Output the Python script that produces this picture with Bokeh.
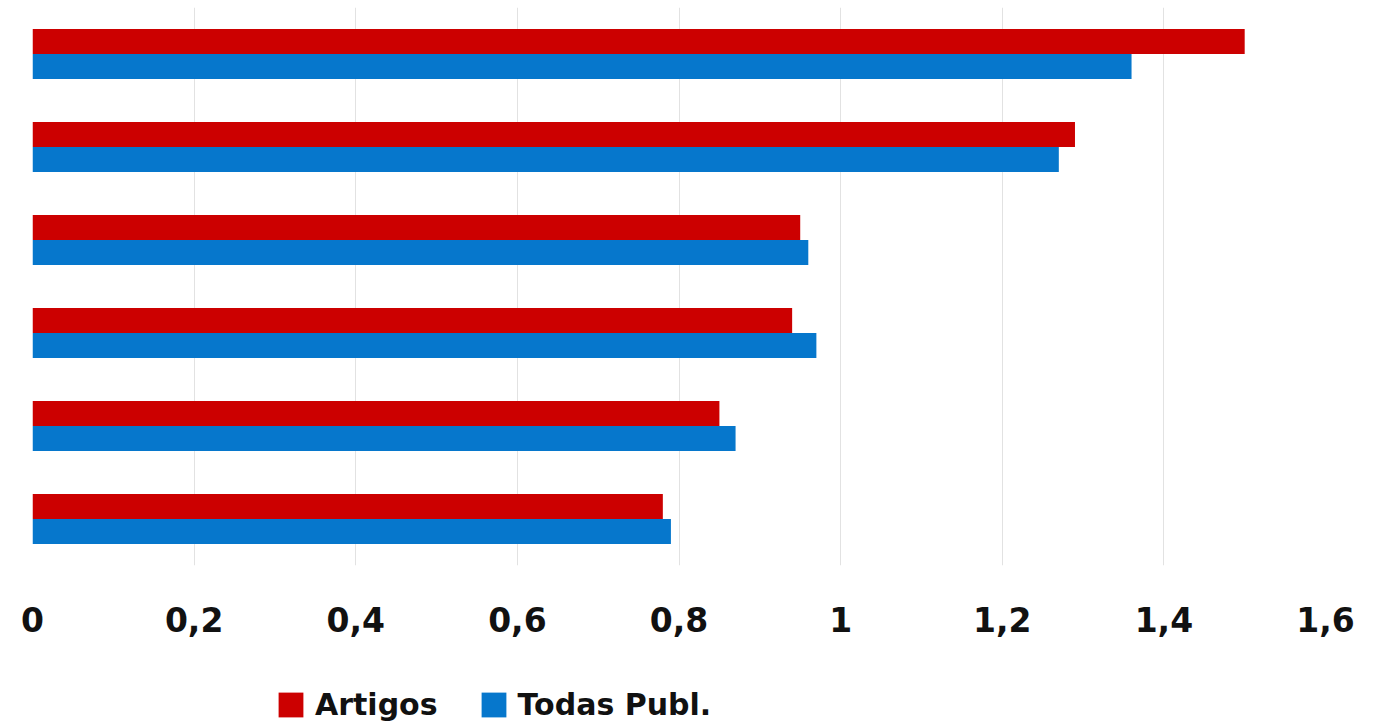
from bokeh.plotting import figure
from bokeh.layouts import column
from bokeh.models import FactorRange, Range1d, FixedTicker, CustomJSTickFormatter, Legend, LegendItem, ColumnDataSource
from bokeh.transform import dodge
from bokeh.embed import file_html
from bokeh.resources import INLINE

# categories listed top to bottom (no labels shown in the chart)
categories = ["G1", "G2", "G3", "G4", "G5", "G6"]
artigos = [1.50, 1.29, 0.95, 0.94, 0.85, 0.78]
todas_publ = [1.36, 1.27, 0.96, 0.97, 0.87, 0.79]
series_names = ["Artigos", "Todas Publ."]
x_ticks = [0, 0.2, 0.4, 0.6, 0.8, 1.0, 1.2, 1.4, 1.6]

RED = "#CC0000"
BLUE = "#0677CC"

src = ColumnDataSource(dict(cat=categories, a=artigos, t=todas_publ))

p = figure(
    width=1362, height=659,
    y_range=FactorRange(*list(reversed(categories)), range_padding=0),
    x_range=Range1d(0, 1.6),
    output_backend="svg", toolbar_location=None,
    min_border_left=32, min_border_right=37, min_border_top=7, min_border_bottom=94,
)

p.hbar(y=dodge("cat", 0.135, range=p.y_range), right="a", left=0, height=0.27,
       source=src, fill_color=RED, line_color=None)
p.hbar(y=dodge("cat", -0.135, range=p.y_range), right="t", left=0, height=0.27,
       source=src, fill_color=BLUE, line_color=None)

p.yaxis.visible = False
p.ygrid.grid_line_color = None
p.xgrid.grid_line_color = "#E2E2E2"
p.xgrid.grid_line_width = 1
p.outline_line_color = None

ax = p.xaxis[0]
ax.ticker = FixedTicker(ticks=x_ticks)
ax.formatter = CustomJSTickFormatter(code="var s = (Math.round(tick*10)/10).toString(); return s.replace('.', ',');")
ax.axis_line_color = None
ax.major_tick_line_color = None
ax.minor_tick_line_color = None
ax.major_tick_out = 0
ax.major_tick_in = 0
ax.major_label_standoff = 41
ax.major_label_text_font = "DejaVu Sans"
ax.major_label_text_font_style = "bold"
ax.major_label_text_font_size = "33px"
ax.major_label_text_color = "#111111"

# legend strip below the chart (swatch renderers have zero width, so only the legend shows them)
p2 = figure(width=1362, height=63, output_backend="svg", toolbar_location=None,
            min_border=0, x_range=Range1d(0, 1), y_range=Range1d(0, 1))
p2.axis.visible = False
p2.grid.visible = False
p2.outline_line_color = None
swatch = ColumnDataSource(dict(y=[0.5], l=[0], r=[0]))
e1 = p2.hbar(y="y", left="l", right="r", height=0.5, source=swatch, fill_color=RED, line_color=None)
e2 = p2.hbar(y="y", left="l", right="r", height=0.5, source=swatch, fill_color=BLUE, line_color=None)

legend = Legend(
    items=[LegendItem(label=series_names[0], renderers=[e1]),
           LegendItem(label=series_names[1], renderers=[e2])],
    orientation="horizontal",
    location=(243, 0),
    glyph_width=31, glyph_height=31,
    label_standoff=9, spacing=40,
    padding=0, margin=0,
    border_line_color=None, background_fill_alpha=0,
    label_text_font="DejaVu Sans", label_text_font_style="bold",
    label_text_font_size="30px", label_text_color="#111111",
)
p2.add_layout(legend, "center")

open("out.html", "w").write(file_html(column(p, p2, spacing=0), INLINE))
